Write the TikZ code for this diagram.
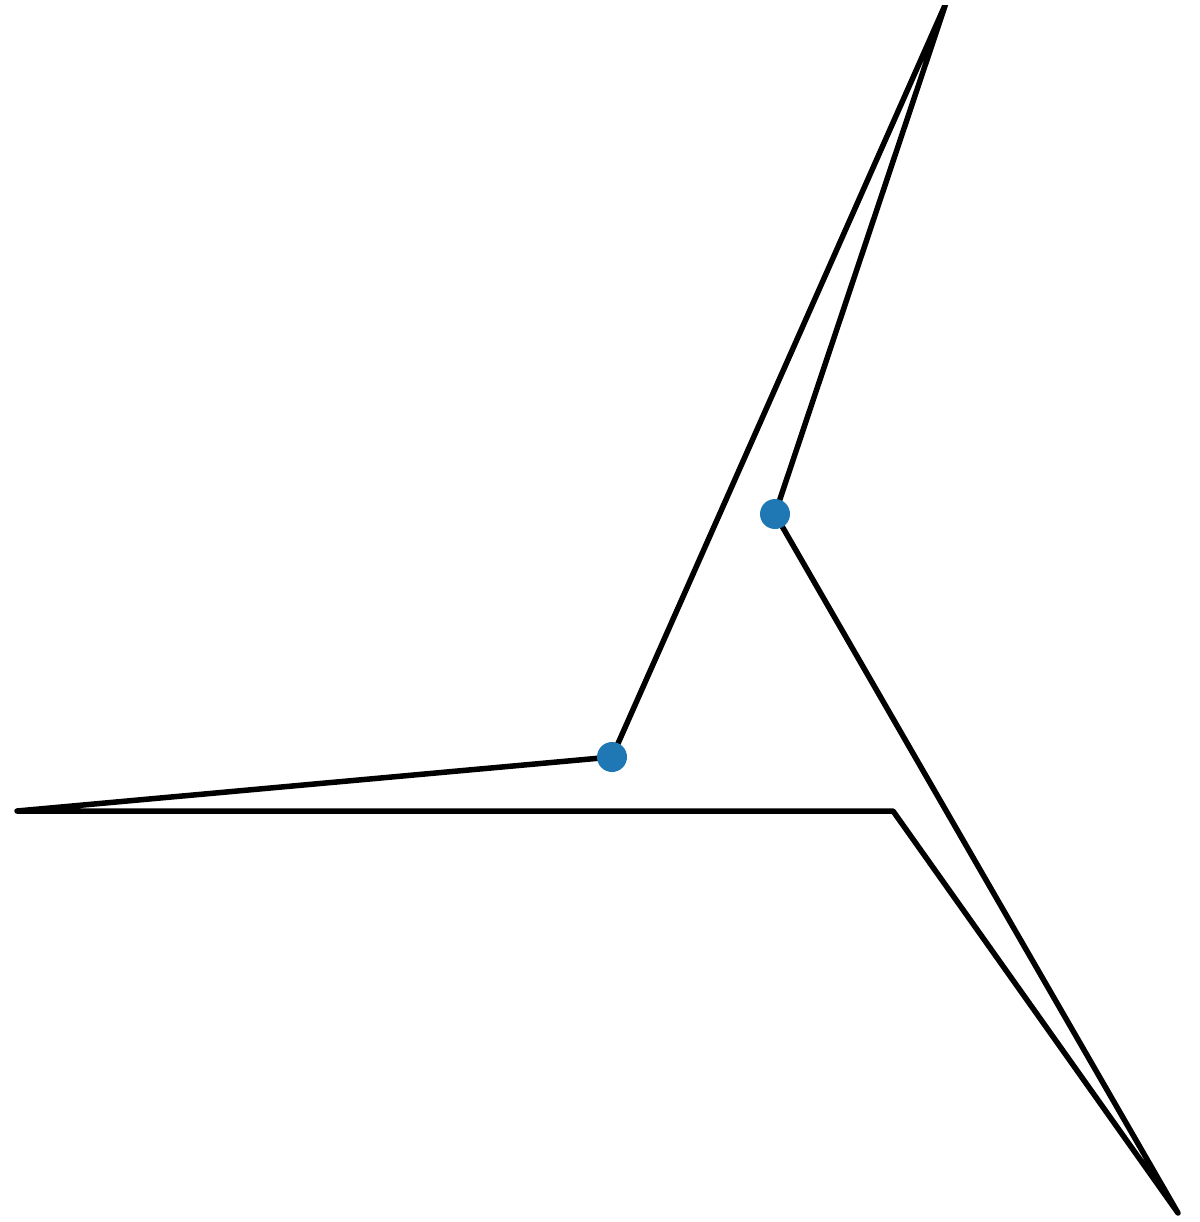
\documentclass[tikz,border=0pt]{standalone}
\definecolor{mplblue}{HTML}{1F77B4}
\tikzset{
  edge/.style={draw=black, line width=5.5pt, line cap=round, line join=round},
  dot/.style={circle, fill=mplblue, draw=none, inner sep=0pt, minimum size=30pt}
}
\begin{document}
\begin{tikzpicture}[x=1pt,y=-1pt]
\useasboundingbox (0,0) rectangle (1199,1222);
\coordinate (A) at (17,811);
\coordinate (B) at (612,757);
\coordinate (C) at (946,3);
\coordinate (D) at (775,514);
\coordinate (E) at (1178,1213);
\coordinate (F) at (893,811);
\begin{scope}
\clip (0,6) rectangle (1199,1222);
\draw[edge] (A) -- (B) -- (C) -- (D) -- (E) -- (F) -- cycle;
\end{scope}
\node[dot] (b) at (B) {};
\node[dot] (d) at (D) {};
\end{tikzpicture}
\end{document}
